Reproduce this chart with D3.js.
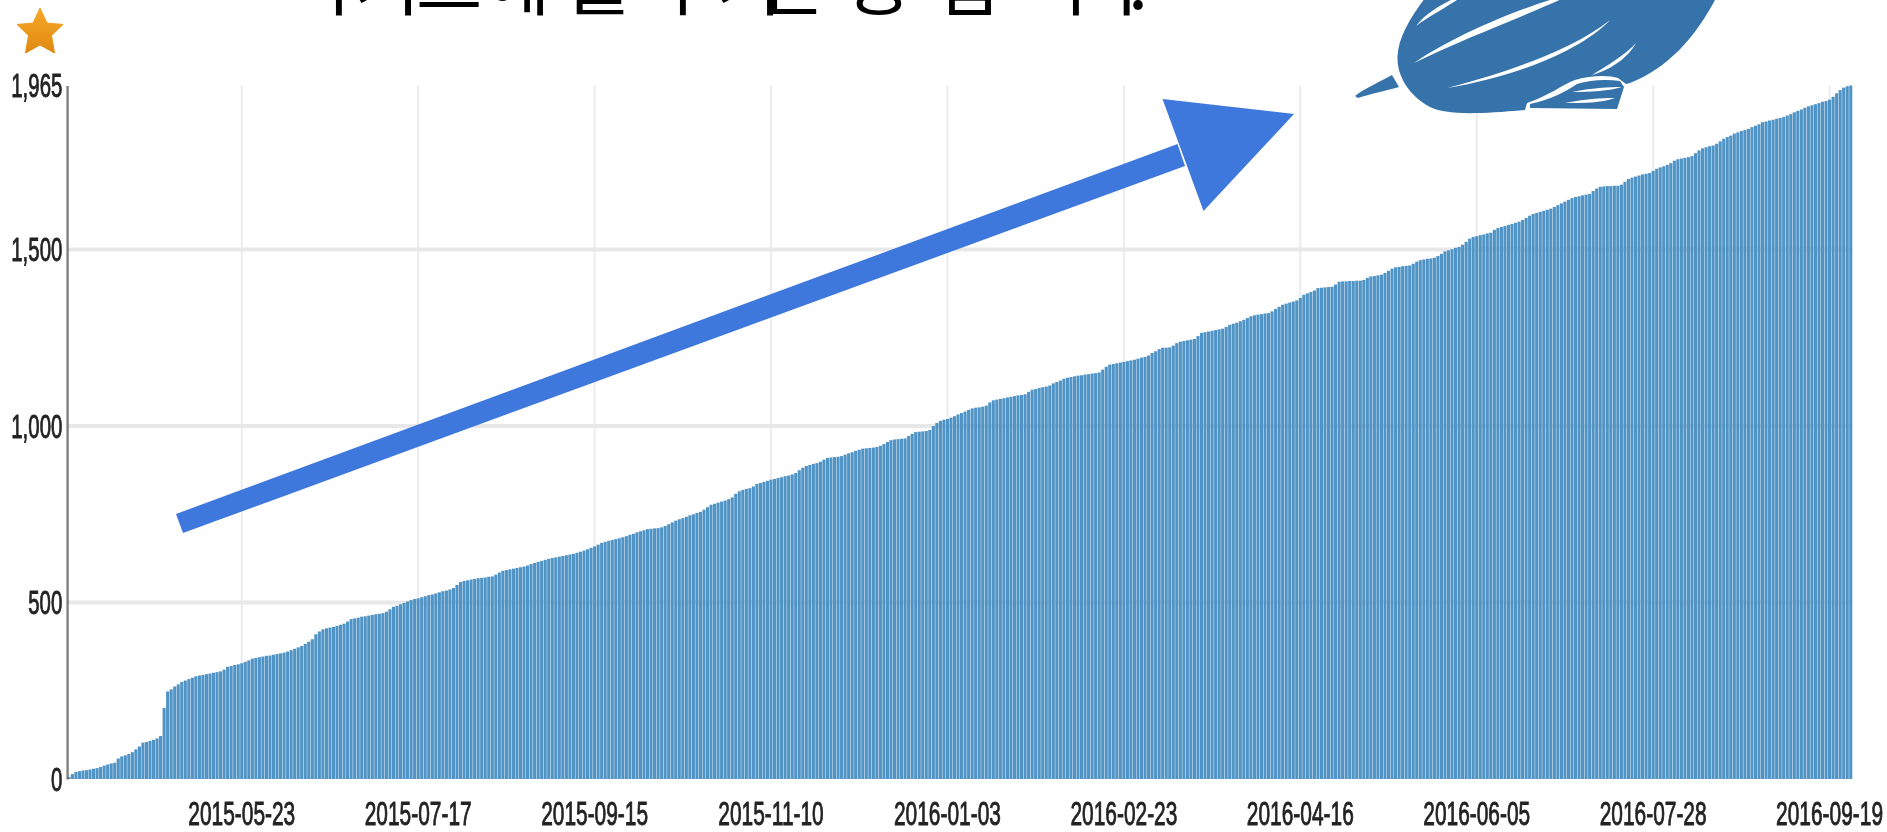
<!DOCTYPE html>
<html>
  <head>
    <meta charset="utf-8" />
    <title>Stars</title>
    <script src="https://d3js.org/d3.v7.min.js"></script>
    <style>
      body {
        margin: 0;
        background: #fff;
      }
      .tick text {
        font-family: "Liberation Sans", sans-serif;
        font-size: 34px;
        fill: #222;
        stroke: #222;
        stroke-width: 0.9px;
      }
    </style>
  </head>
  <body>
    <svg id="chart" width="1887" height="832">
      <defs>
        <linearGradient id="starFill" x1="0" y1="0" x2="0" y2="1">
          <stop offset="0" stop-color="#f6a827"></stop>
          <stop offset="1" stop-color="#df8a12"></stop>
        </linearGradient>
        <filter id="soft"><feGaussianBlur stdDeviation="0.7"></feGaussianBlur></filter>
        <filter id="softer" x="-2%" y="-2%" width="104%" height="104%"><feGaussianBlur stdDeviation="0.75"></feGaussianBlur></filter>
      </defs>
      <g id="title"></g>
      <g id="grid" filter="url(#soft)"></g>
      <g id="shapes" filter="url(#softer)"></g>
      <g id="x" filter="url(#soft)"></g>
      <g id="y" filter="url(#soft)"></g>
      <g id="notes"></g>
    </svg>

    <script>

      // cumulative stars, one entry per bar
      var stars = [
        6,14,20,22,24,25,27,29,31,34,
        38,41,44,46,58,64,67,71,76,84,
        92,103,105,108,111,115,122,201,248,254,
        262,268,275,279,283,287,291,293,295,297,
        299,301,303,305,310,318,320,323,325,328,
        332,336,341,343,345,347,349,350,352,354,
        356,358,361,365,369,373,377,383,389,396,
        410,418,424,427,429,431,434,437,440,446,
        453,455,457,460,461,463,465,467,468,470,
        474,481,488,491,495,499,503,507,510,512,
        515,518,521,523,526,529,532,534,537,541,
        550,558,561,563,565,567,569,570,571,573,
        574,579,585,590,592,594,596,598,600,602,
        605,609,612,615,618,621,624,626,628,630,
        632,634,636,638,641,644,647,651,655,659,
        664,669,672,675,677,680,682,685,688,692,
        695,699,702,705,708,709,710,711,713,717,
        722,727,732,736,739,743,747,750,754,757,
        763,770,777,780,783,786,789,793,798,808,
        815,819,822,824,829,836,839,842,845,848,
        850,853,855,858,860,863,867,875,882,887,
        890,893,895,899,905,910,911,912,913,915,
        919,923,926,930,933,936,937,938,939,941,
        944,949,955,960,962,963,964,965,972,978,
        983,984,985,986,989,1000,1009,1015,1018,1020,
        1024,1028,1033,1037,1041,1046,1050,1052,1053,1055,
        1058,1067,1073,1075,1077,1079,1081,1083,1085,1087,
        1088,1090,1097,1103,1105,1108,1110,1112,1115,1121,
        1125,1129,1134,1137,1139,1141,1143,1144,1146,1147,
        1149,1150,1152,1160,1168,1174,1176,1178,1180,1182,
        1184,1186,1188,1191,1194,1196,1200,1207,1212,1218,
        1222,1222,1223,1228,1235,1239,1241,1243,1245,1247,
        1255,1264,1266,1268,1270,1272,1274,1276,1281,1287,
        1290,1293,1297,1301,1306,1311,1314,1316,1317,1319,
        1320,1325,1332,1338,1344,1347,1350,1353,1356,1363,
        1372,1376,1380,1384,1391,1392,1393,1394,1395,1401,
        1409,1410,1410,1411,1411,1412,1412,1414,1420,1424,
        1425,1427,1429,1434,1440,1446,1450,1451,1453,1454,
        1455,1460,1466,1470,1472,1474,1475,1477,1482,1488,
        1495,1498,1501,1505,1508,1514,1522,1531,1536,1538,
        1541,1543,1546,1548,1556,1561,1564,1567,1570,1573,
        1576,1579,1584,1590,1596,1601,1604,1607,1610,1613,
        1616,1621,1626,1631,1636,1641,1646,1649,1651,1654,
        1656,1658,1666,1673,1678,1679,1680,1680,1681,1681,
        1684,1692,1700,1704,1707,1710,1713,1715,1717,1723,
        1729,1733,1736,1740,1745,1752,1756,1758,1760,1762,
        1765,1773,1781,1787,1790,1793,1795,1800,1807,1814,
        1819,1823,1829,1832,1836,1839,1842,1847,1851,1855,
        1861,1863,1866,1868,1871,1873,1876,1880,1884,1889,
        1893,1897,1902,1906,1909,1912,1915,1919,1921,1925,
        1933,1943,1952,1959,1963,1965
      ];
      var yTicks = [0, 500, 1000, 1500, 1965];
      var gridValues = [500, 1000, 1500];
      // every 50th bar carries a date label
      var tickBars = [49, 99, 149, 199, 249, 299, 349, 399, 449, 499];
      var tickDates = ["2015-05-23", "2015-07-17", "2015-09-15", "2015-11-10", "2016-01-03",
                       "2016-02-23", "2016-04-16", "2016-06-05", "2016-07-28", "2016-09-19"];
      var titleChars = ["우", "기", "트", "에", "를", "주", "기", "는", "중", "입", "니", "다", "."];
      var titleX = [306, 354, 416, 484, 566, 650, 716, 760, 846, 934, 1022, 1076, 1128];

      var margin = { top: 85.5, left: 67.3 };
      var chartWidth = 1785;
      var chartHeight = 693.5;

      var svg = d3.select("#chart");

      var x = d3.scaleBand()
        .domain(d3.range(stars.length))
        .range([margin.left, margin.left + chartWidth])
        .paddingInner(0.12)
        .paddingOuter(0);

      var y = d3.scaleLinear()
        .domain([0, 1965])
        .range([margin.top + chartHeight, margin.top]);

      // Title, only the bottom of it is inside the picture
      svg.select("#title").append("text")
        .attr("x", titleX.join(" "))
        .attr("y", 9)
        .attr("font-family", "'Noto Sans CJK KR'")
        .attr("font-size", 72)
        .attr("fill", "#000")
        .text(titleChars.join(""));

      // Grid
      svg.select("#grid").selectAll(".gx")
        .data(tickBars)
        .enter().append("line")
        .attr("class", "gx")
        .attr("x1", function(d) { return x(d) + x.bandwidth() / 2; })
        .attr("x2", function(d) { return x(d) + x.bandwidth() / 2; })
        .attr("y1", margin.top)
        .attr("y2", margin.top + chartHeight)
        .attr("stroke", "#ececec")
        .attr("stroke-width", 2);

      svg.select("#grid").selectAll(".gy")
        .data(gridValues)
        .enter().append("line")
        .attr("class", "gy")
        .attr("x1", margin.left)
        .attr("x2", margin.left + chartWidth)
        .attr("y1", function(d) { return y(d); })
        .attr("y2", function(d) { return y(d); })
        .attr("stroke", "#e8e8e8")
        .attr("stroke-width", 4);

      // Bars
      svg.select("#shapes").selectAll(".bar")
        .data(stars)
        .enter().append("rect")
        .attr("class", "bar")
        .attr("x", function(d, i) { return x(i); })
        .attr("width", x.bandwidth())
        .attr("y", function(d) { return y(d); })
        .attr("height", function(d) { return y(0) - y(d); })
        .attr("fill", "#478dc2")
        .attr("opacity", 0.95);

      // Axes
      var xAxis = d3.axisBottom(x)
        .tickValues(tickBars)
        .tickSize(0)
        .tickFormat(function(d) { return tickDates[tickBars.indexOf(d)]; });

      svg.select("#x")
        .attr("transform", "translate(0, " + (margin.top + chartHeight) + ")")
        .call(xAxis)
        .call(function(g) { g.select(".domain").remove(); })
        .selectAll("text")
        .attr("y", 0)
        .attr("dy", 0)
        .attr("transform", "translate(0, 46) scale(0.615, 1)");

      var yAxis = d3.axisLeft(y)
        .tickValues(yTicks)
        .tickSize(0)
        .tickFormat(d3.format(","));

      svg.select("#y")
        .attr("transform", "translate(" + margin.left + ", 0)")
        .call(yAxis)
        .call(function(g) {
          g.select(".domain").attr("stroke", "#666").attr("stroke-width", 2);
        })
        .selectAll("text")
        .attr("x", 0)
        .attr("dy", "0.33em")
        .attr("transform", "translate(-5, 0) scale(0.6, 1)");

      // Star, arrow and airship drawn on top of the chart
      var notes = svg.select("#notes");

      notes.append("path")
        .attr("d", "M40,8 L47,23 L63,24.5 L51.5,35.5 L54.5,53 L40,45 L25.5,53 L28.5,35.5 L17,24.5 L33,23 Z")
        .attr("fill", "url(#starFill)")
        .attr("stroke", "url(#starFill)")
        .attr("stroke-linejoin", "round");

      notes.append("path")
        .attr("d", "M176,514 L1177.5,144 L1185,166 L183,533 Z")
        .attr("fill", "#3f78dc");
      notes.append("path")
        .attr("d", "M1162.5,99 L1294,114 L1203.5,211 Z")
        .attr("fill", "#3f78dc");

      var ship = notes.append("g").attr("fill", "#3473aa").attr("filter", "url(#soft)");
      ship.append("path")
        .attr("d", "M1425,-2 C1410,18 1398,38 1397.5,57 C1397,75 1408,95 1430,107 C1445,114 1470,115 1525,110 L1527,103 C1550,95 1562,85 1575,80 C1590,75 1610,75 1618,78 L1626,84 L1630,83 C1668,68 1695,38 1716,-2 Z");
      ship.append("path")
        .attr("d", "M1530,108 L1617,109 L1624,87 L1620,81 C1605,79 1590,80 1577,84 C1565,92 1550,100 1530,104 Z");
      ship.append("path")
        .attr("d", "M1355,96 C1365,88 1380,82 1392,75 L1399,87 C1385,91 1370,94 1358,98 Z");

      var streaks = ship.append("g").attr("fill", "#fff");
      streaks.append("path").attr("d", "M1416,26 C1425,14 1440,5 1455,-2 L1460,-2 C1445,8 1428,17 1416,26 Z");
      streaks.append("path").attr("d", "M1414,63 C1450,38 1510,12 1556,-2 L1564,-2 C1520,18 1460,40 1414,63 Z");
      streaks.append("path").attr("d", "M1447,88 C1500,74 1570,52 1610,20 C1580,52 1510,78 1447,88 Z");
      streaks.append("path").attr("d", "M1592,75 C1608,65 1625,55 1636,43 C1628,58 1610,70 1592,75 Z");
      streaks.append("path").attr("d", "M1572,92 C1590,88 1610,87 1622,87 C1610,91 1590,92 1572,92 Z");
      streaks.append("path").attr("d", "M1565,103 C1585,99 1600,98 1615,98 C1600,103 1585,103 1565,103 Z");

    </script>
  </body>
</html>
